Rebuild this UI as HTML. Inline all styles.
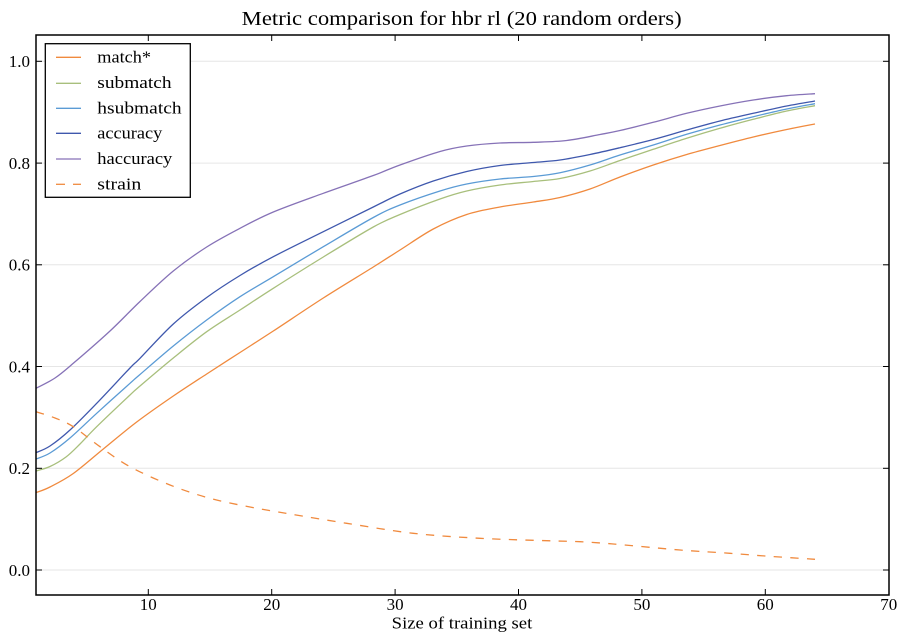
<!DOCTYPE html>
<html><head><meta charset="utf-8"><style>
html,body{margin:0;padding:0;background:#fff;}
svg{display:block;}
text{font-family:"Liberation Serif",serif;fill:#000;}
</style></head><body>
<svg id="chart" width="906" height="644" viewBox="0 0 906 644" xmlns="http://www.w3.org/2000/svg">
<rect x="0" y="0" width="906" height="644" fill="#fff"/>
<!-- grid -->
<g stroke="#e6e6e6" stroke-width="1">
<line x1="36" y1="570" x2="889" y2="570"/>
<line x1="36" y1="468.3" x2="889" y2="468.3"/>
<line x1="36" y1="366.5" x2="889" y2="366.5"/>
<line x1="36" y1="264.8" x2="889" y2="264.8"/>
<line x1="36" y1="163.1" x2="889" y2="163.1"/>
<line x1="36" y1="61.3" x2="889" y2="61.3"/>
</g>
<!-- series -->
<g id="series" fill="none" stroke-width="1.3" stroke-linejoin="round" stroke-linecap="butt">
<polyline stroke="#f08a3e" points="36,492.7 50,487 73.3,473.5 103.3,449 136.7,422 173.3,396 206.7,374 240,352.5 273.3,331 323.3,298 373.3,267 400,250 433.3,229 466.7,214.5 500,207 533.3,202 560,197.5 590,189 620,177 653.3,165 686.7,154.5 720,145.5 753.3,137 786.7,129.5 815,124"/>
<polyline stroke="#a8bf7c" points="36,471 50,466.5 66,457 80,444 96.7,426.7 130,395 140,386 173.3,358 206.7,331.7 240,310 273.3,288.3 323.3,257 373.3,227 400,214.5 440,199 466.7,191 500,185 533.3,181.5 560,178.5 590,171 620,160.5 653.3,149.3 686.7,138.3 720,128.3 753.3,119.3 786.7,111 815,105.7"/>
<polyline stroke="#5b9bd5" points="36,459 50,453 70,438 96.7,413.3 130,383.3 140,374.5 173.3,346 206.7,320 240,296.7 273.3,276.7 323.3,246.7 373.3,217.5 400,205 440,191 466.7,184 500,179 533.3,176.5 560,172.7 590,165 620,155 653.3,145 686.7,134.3 720,125 753.3,116.7 786.7,109 815,103.7"/>
<polyline stroke="#3f58ad" points="36,452.7 50,446 70,430 96.7,403.3 130,368 140,358.3 173.3,324 206.7,297.5 240,275.5 273.3,256.7 323.3,231.7 373.3,207 400,194 433.3,181 466.7,171.5 500,165.5 533.3,162.5 560,160 590,154.5 620,147.7 653.3,139.5 686.7,130 720,121 753.3,113.3 786.7,106 815,101"/>
<polyline stroke="#8672b7" points="36,388.3 55,378 73.3,363.3 110,331 140,301.5 173.3,271 206.7,247 240,228.3 273.3,212 323.3,193.3 373.3,175.5 400,165 440,151.5 466.7,146 500,143 533.3,142.3 566.7,140.5 600,134.5 620,130.5 653.3,122.3 686.7,113.3 720,106 753.3,100 786.7,95.7 815,93.7"/>
<polyline stroke="#f08a3e" stroke-dasharray="8.3,8.3" points="36,411.7 55,418 73.3,426.7 100,446.7 130,466.7 170,485 210,498.3 250,507 290,514 346.7,523.3 413.3,533.3 480,538.3 546.7,540.7 580,541.7 613.3,544 680,550 730,553.3 765,556 815,559.3"/>
</g>
<!-- ticks -->
<g stroke="#000" stroke-width="1">
<line x1="36" y1="570" x2="42" y2="570"/><line x1="883" y1="570" x2="889" y2="570"/>
<line x1="36" y1="468.3" x2="42" y2="468.3"/><line x1="883" y1="468.3" x2="889" y2="468.3"/>
<line x1="36" y1="366.5" x2="42" y2="366.5"/><line x1="883" y1="366.5" x2="889" y2="366.5"/>
<line x1="36" y1="264.8" x2="42" y2="264.8"/><line x1="883" y1="264.8" x2="889" y2="264.8"/>
<line x1="36" y1="163.1" x2="42" y2="163.1"/><line x1="883" y1="163.1" x2="889" y2="163.1"/>
<line x1="36" y1="61.3" x2="42" y2="61.3"/><line x1="883" y1="61.3" x2="889" y2="61.3"/>
<line x1="148.3" y1="595" x2="148.3" y2="589"/><line x1="148.3" y1="35" x2="148.3" y2="41"/>
<line x1="271.7" y1="595" x2="271.7" y2="589"/><line x1="271.7" y1="35" x2="271.7" y2="41"/>
<line x1="395.1" y1="595" x2="395.1" y2="589"/><line x1="395.1" y1="35" x2="395.1" y2="41"/>
<line x1="518.5" y1="595" x2="518.5" y2="589"/><line x1="518.5" y1="35" x2="518.5" y2="41"/>
<line x1="641.9" y1="595" x2="641.9" y2="589"/><line x1="641.9" y1="35" x2="641.9" y2="41"/>
<line x1="765.3" y1="595" x2="765.3" y2="589"/><line x1="765.3" y1="35" x2="765.3" y2="41"/>
</g>
<!-- frame -->
<rect x="36" y="35" width="853" height="560" fill="none" stroke="#000" stroke-width="1.5"/>
<!-- legend -->
<rect x="45.3" y="43.7" width="145" height="153.6" fill="#fff" stroke="#000" stroke-width="1.3"/>
<g stroke-width="1.3">
<line x1="56" y1="57.3" x2="81" y2="57.3" stroke="#f08a3e"/>
<line x1="56" y1="83.3" x2="81" y2="83.3" stroke="#a8bf7c"/>
<line x1="56" y1="108.3" x2="81" y2="108.3" stroke="#5b9bd5"/>
<line x1="56" y1="133.3" x2="81" y2="133.3" stroke="#3f58ad"/>
<line x1="56" y1="159" x2="81" y2="159" stroke="#8672b7"/>
<line x1="56" y1="184.3" x2="65" y2="184.3" stroke="#f08a3e"/>
<line x1="73" y1="184.3" x2="81" y2="184.3" stroke="#f08a3e"/>
</g>
<g font-size="17">
<text x="97.3" y="62.5" textLength="53.7" lengthAdjust="spacingAndGlyphs">match*</text>
<text x="97.3" y="88" textLength="74.3" lengthAdjust="spacingAndGlyphs">submatch</text>
<text x="97.3" y="113.3" textLength="84.3" lengthAdjust="spacingAndGlyphs">hsubmatch</text>
<text x="97.3" y="138.5" textLength="65" lengthAdjust="spacingAndGlyphs">accuracy</text>
<text x="97.3" y="164" textLength="75" lengthAdjust="spacingAndGlyphs">haccuracy</text>
<text x="97.3" y="189.5" textLength="44" lengthAdjust="spacingAndGlyphs">strain</text>
</g>
<!-- y tick labels -->
<g font-size="17" text-anchor="end">
<text x="30" y="575.8">0.0</text>
<text x="30" y="474.1">0.2</text>
<text x="30" y="372.3">0.4</text>
<text x="30" y="270.6">0.6</text>
<text x="30" y="168.9">0.8</text>
<text x="30" y="67.1">1.0</text>
</g>
<!-- x tick labels -->
<g font-size="17" text-anchor="middle">
<text x="148.3" y="610">10</text>
<text x="271.7" y="610">20</text>
<text x="395.1" y="610">30</text>
<text x="518.5" y="610">40</text>
<text x="641.9" y="610">50</text>
<text x="765.3" y="610">60</text>
<text x="888.7" y="610">70</text>
</g>
<text x="391.7" y="628.3" font-size="17" textLength="140.6" lengthAdjust="spacingAndGlyphs">Size of training set</text>
<text x="241.7" y="25" font-size="20.5" textLength="440" lengthAdjust="spacingAndGlyphs">Metric comparison for hbr rl (20 random orders)</text>
</svg>
<script>
(function(){
  try{
    var NS="http://www.w3.org/2000/svg";
    var polys=document.querySelectorAll("#series polyline");
    for(var i=0;i<polys.length;i++){
      var pl=polys[i];
      var raw=pl.getAttribute("points").trim().split(/\s+/);
      var p=[];
      for(var j=0;j<raw.length;j++){var c=raw[j].split(",");p.push([parseFloat(c[0]),parseFloat(c[1])]);}
      var d="M"+p[0][0]+","+p[0][1];
      for(var k=0;k<p.length-1;k++){
        var p0=p[k>0?k-1:k],p1=p[k],p2=p[k+1],p3=p[k+2<p.length?k+2:k+1];
        var c1x=p1[0]+(p2[0]-p0[0])/6,c1y=p1[1]+(p2[1]-p0[1])/6;
        var c2x=p2[0]-(p3[0]-p1[0])/6,c2y=p2[1]-(p3[1]-p1[1])/6;
        d+=" C"+c1x.toFixed(2)+","+c1y.toFixed(2)+" "+c2x.toFixed(2)+","+c2y.toFixed(2)+" "+p2[0]+","+p2[1];
      }
      var path=document.createElementNS(NS,"path");
      path.setAttribute("d",d);
      path.setAttribute("stroke",pl.getAttribute("stroke"));
      if(pl.getAttribute("stroke-dasharray"))path.setAttribute("stroke-dasharray",pl.getAttribute("stroke-dasharray"));
      pl.parentNode.insertBefore(path,pl);
      pl.parentNode.removeChild(pl);
    }
  }catch(e){}
})();
</script>
</body></html>
